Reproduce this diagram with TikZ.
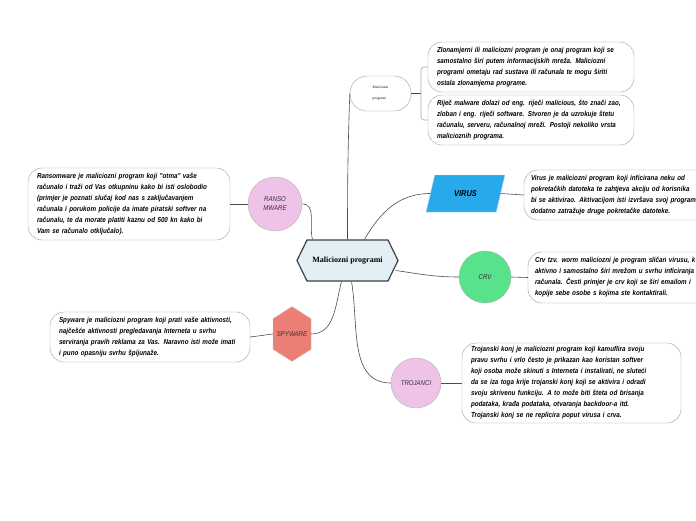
\documentclass[tikz,border=0pt]{standalone}
\usepackage{fontspec}
\newfontfamily\descfont[FakeStretch=0.87]{Liberation Sans}
\newfontfamily\titlefont{Liberation Serif}
\usetikzlibrary{shapes.geometric, shapes.symbols}

\definecolor{hexblue}{HTML}{E2EFF5}
\definecolor{rosa}{HTML}{EFC3E7}
\definecolor{virblue}{HTML}{28A9EC}
\definecolor{crvgreen}{HTML}{57E28B}
\definecolor{spyred}{HTML}{EC7F75}

\tikzset{
  desc/.style={draw=gray!75, rounded corners=14pt, fill=white, inner sep=0pt, align=left,
    font=\descfont\itshape\bfseries\fontsize{7.2}{11}\selectfont},
  topic/.style={circle, draw=gray!60, inner sep=0pt, align=center,
    font=\descfont\itshape\fontsize{7}{9}\selectfont, text=black!80},
  link/.style={draw=black!70, line width=0.6pt},
}

\begin{document}
\begin{tikzpicture}[x=1pt, y=-1pt]
      \useasboundingbox[fill=white] (0,0) rectangle (696,520);

      % middle
      \node[signal, signal to=west and east, signal pointer angle=128, draw=black!75, line width=1.2pt,
        fill=hexblue, minimum width=101pt, minimum height=41pt, inner sep=0pt,
        font=\titlefont\bfseries\fontsize{8}{10}\selectfont] (mp) at (347.5,260.5) {Maliciozni programi};

      % top branch
      \node[draw=gray!75, rounded corners=17pt, minimum width=61pt, minimum height=35pt, inner sep=0pt,
        align=left, font=\titlefont\fontsize{3.6}{11}\selectfont] (top) at (380.5,93.5) {Maliciozni\\programi};
      \node[desc, minimum width=206pt, minimum height=50pt, text width=188pt] (b1) at (531,67)
        {Zlonamjerni ili maliciozni program je onaj program koji se\\
         samostalno širi putem informacijskih mreža. Maliciozni\\
         programi ometaju rad sustava ili računala te mogu širiti\\
         ostala zlonamjerna programe.};
      \node[desc, minimum width=206pt, minimum height=50pt, text width=188pt] (b2) at (531,120)
        {Riječ malware dolazi od eng. riječi malicious, što znači zao,\\
         zloban i eng. riječi software. Stvoren je da uzrokuje štetu\\
         računalu, serveru, računalnoj mreži. Postoji nekoliko vrsta\\
         malicioznih programa.};

      % topics
      \node[topic, fill=rosa, minimum size=54pt] (ran) at (275,204) {RANSO\\MWARE};
      \node[trapezium, trapezium left angle=62, trapezium right angle=118, trapezium stretches=true,
        draw=gray!40, fill=virblue, minimum width=79pt, minimum height=37pt, inner sep=0pt,
        font=\descfont\itshape\bfseries\fontsize{8.5}{10}\selectfont] (vir) at (465.5,193.5) {VIRUS};
      \node[topic, fill=crvgreen, minimum size=52pt] (crv) at (485,277) {CRV};
      \node[signal, signal to=north and south, signal pointer angle=115, draw=gray!40, fill=spyred,
        minimum width=38pt, minimum height=50pt, inner sep=0pt,
        font=\descfont\itshape\fontsize{7}{9}\selectfont, text=black!80] (spy) at (292,334) {SPYWARE};
      \node[topic, fill=rosa, minimum size=50pt] (troj) at (416,383) {TROJANCI};

      % descriptions
      \node[desc, minimum width=202pt, minimum height=72pt, text width=184pt] (ranbox) at (129,204)
        {Ransomware je maliciozni program koji "otma" vaše\\
         računalo i traži od Vas otkupninu kako bi isti oslobodio\\
         (primjer je poznati slučaj kod nas s zaključavanjem\\
         računala i porukom policije da imate piratski softver na\\
         računalu, te da morate platiti kaznu od 500 kn kako bi\\
         Vam se računalo otključalo).};
      \node[desc, minimum width=200pt, minimum height=50pt, text width=186pt] (virbox) at (624,195)
        {Virus je maliciozni program koji inficirana neku od\\
         pokretačkih datoteka te zahtjeva akciju od korisnika\\
         bi se aktivirao. Aktivacijom isti izvršava svoj program\\
         dodatno zatražuje druge pokretačke datoteke.};
      \node[desc, minimum width=200pt, minimum height=51pt, text width=186pt] (crvbox) at (628,277.5)
        {Crv tzv. worm maliciozni je program sličan virusu, k\\
         aktivno i samostalno širi mrežom u svrhu inficiranja\\
         računala. Česti primjer je crv koji se širi emailom i\\
         kopije sebe osobe s kojima ste kontaktirali.};
      \node[desc, minimum width=200pt, minimum height=50pt, text width=182pt] (spybox) at (150,337)
        {Spyware je maliciozni program koji prati vaše aktivnosti,\\
         najčešće aktivnosti pregledavanja Interneta u svrhu\\
         serviranja pravih reklama za Vas. Naravno isti može imati\\
         i puno opasniju svrhu špijunaže.};
      \node[desc, minimum width=219pt, minimum height=80pt, text width=201pt] (trojbox) at (571.5,383)
        {Trojanski konj je maliciozni program koji kamuflira svoju\\
         pravu svrhu i vrlo često je prikazan kao koristan softver\\
         koji osoba može skinuti s Interneta i instalirati, ne sluteći\\
         da se iza toga krije trojanski konj koji se aktivira i odradi\\
         svoju skrivenu funkciju. A to može biti šteta od brisanja\\
         podataka, krađa podataka, otvaranja backdoor-a itd.\\
         Trojanski konj se ne replicira poput virusa i crva.};

      % connectors
      \coordinate (br) at (421,93.5);
      \draw[link] (top.west) to[out=-92, in=90] (mp.north);
      \draw[link] (top.east) -- (br);
      \draw[link, draw=gray!70, rounded corners=3pt] (b1.west) -| (br) |- (b2.west);
      \draw[link] (ran.east) to[out=0, in=105] ([xshift=-35pt]mp.north);
      \draw[link] (ranbox.east) -- (ran.west);
      \draw[link] ([xshift=17pt]mp.north) to[out=60, in=180] (vir.west);
      \draw[link] (vir.east) -- (virbox.west);
      \draw[link] ([xshift=-3pt, yshift=-10pt]mp.east) to[out=-8, in=180] (crv.west);
      \draw[link] (crv.east) -- (crvbox.west);
      \draw[link] ([xshift=-6pt]mp.south) to[out=-105, in=0] (spy.east);
      \draw[link] (spybox.east) -- (spy.west);
      \draw[link] ([xshift=4pt]mp.south) to[out=-80, in=180] (troj.west);
      \draw[link] (troj.east) -- (trojbox.west);
    \end{tikzpicture}
\end{document}
